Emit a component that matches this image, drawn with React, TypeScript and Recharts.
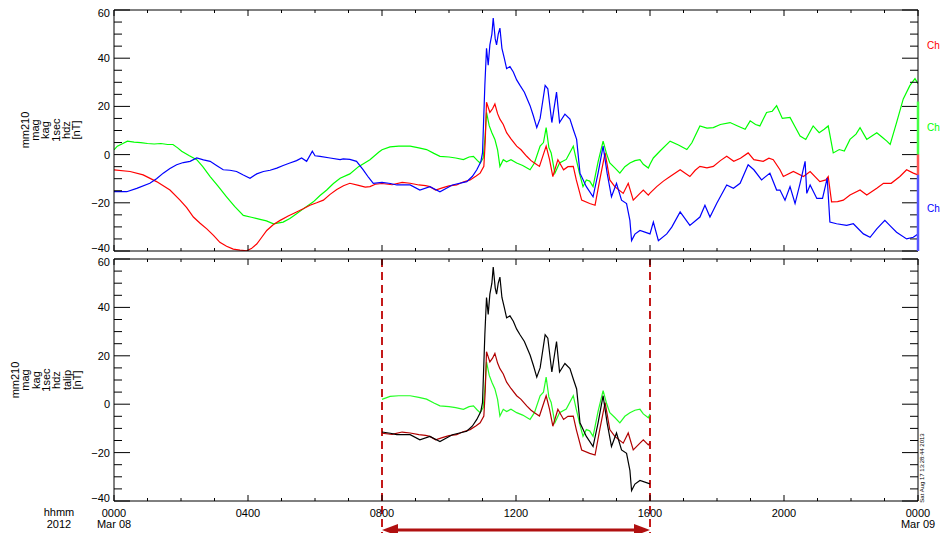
import React from 'react';
import { LineChart, Line, XAxis, YAxis, ReferenceArea } from 'recharts';

const FONT = '"Liberation Sans", Arial, Helvetica, sans-serif';

// [hour of day, nT]
const greenSeries: [number, number][] = [
  [0, 2.0], [0.1, 3.5], [0.25, 4.5], [0.4, 5.6], [0.6, 5.2], [0.8, 5.0], [1.0, 4.6], [1.2, 4.4], [1.4, 4.6], [1.6, 4.2],
  [1.76, 4.2], [1.9, 2.8], [2.02, 1.4], [2.25, -0.5], [2.47, -2.1], [2.65, -5.0], [2.87, -9.1], [3.1, -13.0], [3.36, -17.5],
  [3.6, -21.5], [3.86, -25.2], [4.1, -26.0], [4.36, -26.9], [4.55, -27.5], [4.76, -28.7], [5.05, -28.0], [5.25, -26.5],
  [5.45, -24.5], [5.7, -22.0], [5.95, -19.6], [6.15, -17.0], [6.35, -14.7], [6.55, -12.0], [6.75, -9.8], [7.04, -8.0],
  [7.3, -5.0], [7.64, -2.1], [7.9, 1.0], [8.0, 2.0], [8.24, 3.2], [8.5, 3.5], [8.84, 3.5], [9.1, 2.8], [9.33, 2.1],
  [9.55, 0.5], [9.73, -0.7], [10.0, -1.0], [10.2, -1.4], [10.43, -2.1], [10.6, -1.0], [10.73, -0.7], [10.85, -2.5],
  [10.93, -3.5], [11.02, -1.4], [11.08, 8.0], [11.12, 17.5], [11.2, 12.0], [11.28, 9.1], [11.37, 6.3], [11.45, 2.0],
  [11.52, -4.9], [11.62, -2.1], [11.72, -3.0], [11.85, -2.1], [12.02, -3.5], [12.2, -4.5], [12.42, -6.3], [12.55, -3.5],
  [12.72, 3.5], [12.82, 5.0], [12.9, 11.2], [12.98, 3.0], [13.05, 0.7], [13.16, -7.7], [13.3, -3.5], [13.5, -2.0],
  [13.71, 3.5], [13.8, -2.1], [13.9, -8.0], [14.0, -13.3], [14.1, -10.5], [14.2, -11.0], [14.3, -13.3], [14.45, -3.0],
  [14.6, 5.6], [14.7, 0.5], [14.8, -3.5], [14.95, -5.5], [15.1, -7.7], [15.25, -5.0], [15.4, -3.5], [15.55, -2.5],
  [15.7, -2.1], [15.8, -4.0], [15.95, -5.6], [16.0, -4.0], [16.1, -1.4], [16.3, 1.5], [16.6, 5.6], [16.85, 4.0],
  [17.1, 2.1], [17.25, 4.9], [17.49, 11.9], [17.7, 11.0], [17.89, 11.2], [18.1, 12.5], [18.39, 13.3], [18.6, 12.0],
  [18.84, 10.5], [18.99, 14.0], [19.15, 12.5], [19.28, 11.9], [19.48, 17.5], [19.65, 18.0], [19.78, 20.3], [19.95, 15.0],
  [20.18, 15.4], [20.35, 11.0], [20.48, 7.7], [20.65, 6.3], [20.87, 11.9], [21.05, 9.1], [21.2, 10.5], [21.32, 11.9],
  [21.47, 0.7], [21.65, 2.1], [21.8, 1.5], [21.97, 6.3], [22.15, 8.5], [22.27, 11.2], [22.47, 6.3], [22.6, 7.5],
  [22.77, 9.1], [22.95, 7.0], [23.07, 5.6], [23.17, 4.2], [23.36, 13.3], [23.56, 23.1], [23.76, 28.7], [23.91, 31.5],
  [24.0, 29.4],
];

const redSeries: [number, number][] = [
  [0, -6.3], [0.48, -7.0], [0.87, -8.4], [1.27, -11.2], [1.67, -14.7], [1.97, -18.9], [2.17, -22.0], [2.37, -25.9],
  [2.57, -28.5], [2.77, -30.8], [2.97, -33.5], [3.16, -36.4], [3.36, -38.0], [3.56, -39.2], [3.76, -39.6], [3.96, -39.9],
  [4.1, -39.0], [4.26, -37.1], [4.4, -34.5], [4.56, -31.5], [4.76, -29.0], [4.96, -27.3], [5.2, -25.5], [5.45, -23.8],
  [5.65, -22.5], [5.85, -21.0], [6.05, -20.0], [6.25, -18.9], [6.45, -16.5], [6.65, -14.5], [6.85, -12.9], [7.04, -11.9],
  [7.3, -12.8], [7.5, -13.5], [7.64, -13.3], [7.8, -12.3], [8.0, -12.0], [8.3, -12.5], [8.6, -11.5], [8.84, -11.9],
  [9.1, -12.6], [9.3, -12.9], [9.43, -13.3], [9.6, -14.7], [9.8, -13.8], [10.0, -13.0], [10.23, -12.6], [10.4, -11.5],
  [10.63, -10.5], [10.8, -9.0], [10.93, -7.7], [11.04, -4.9], [11.08, 4.9], [11.12, 21.7], [11.22, 17.5], [11.3, 19.0],
  [11.37, 21.0], [11.45, 17.0], [11.52, 14.7], [11.62, 12.5], [11.72, 9.1], [11.85, 6.5], [12.02, 3.5], [12.15, 2.0],
  [12.32, -0.7], [12.45, -2.5], [12.55, -3.5], [12.7, -4.9], [12.9, 3.5], [13.0, -2.0], [13.1, -9.1], [13.25, -2.1],
  [13.42, -6.3], [13.55, -5.0], [13.71, -4.9], [13.8, -10.5], [13.96, -18.9], [14.2, -20.3], [14.36, -21.0], [14.5, -10.5],
  [14.66, 0.7], [14.8, -10.5], [14.95, -13.3], [15.2, -16.1], [15.35, -11.9], [15.5, -18.9], [15.7, -16.1], [15.8, -14.7],
  [15.95, -16.8], [16.0, -16.0], [16.2, -13.3], [16.4, -11.0], [16.6, -9.1], [16.9, -6.3], [17.19, -9.1], [17.35, -6.5],
  [17.49, -4.9], [17.7, -5.5], [17.89, -4.9], [18.1, -2.5], [18.29, -0.7], [18.5, -2.8], [18.7, -1.5], [18.93, 0.7],
  [19.1, -2.1], [19.38, -2.8], [19.55, -1.5], [19.68, -2.1], [19.88, -6.3], [19.98, -9.1], [20.28, -7.0], [20.58, -9.1],
  [20.78, -7.0], [21.07, -11.2], [21.25, -10.5], [21.32, -9.1], [21.42, -19.6], [21.6, -19.5], [21.77, -18.9],
  [21.97, -16.8], [22.27, -14.7], [22.47, -16.8], [22.77, -14.0], [22.97, -11.9], [23.2, -11.9], [23.46, -9.1],
  [23.66, -6.3], [23.86, -7.7], [24.0, -8.4],
];

const blueSeries: [number, number][] = [
  [0, -15.4], [0.38, -15.4], [0.68, -14.0], [1.07, -11.9], [1.27, -10.0], [1.47, -7.7], [1.67, -5.8], [1.87, -4.2],
  [2.07, -3.3], [2.27, -2.8], [2.47, -1.4], [2.67, -2.2], [2.87, -2.8], [3.06, -4.5], [3.26, -6.3], [3.46, -6.5],
  [3.66, -7.0], [3.86, -8.5], [4.06, -9.8], [4.26, -8.0], [4.46, -7.0], [4.66, -6.5], [4.86, -5.6], [5.05, -4.5],
  [5.25, -3.5], [5.45, -2.5], [5.6, -1.4], [5.75, -2.8], [5.92, 1.4], [6.0, -0.5], [6.15, -0.7], [6.45, -1.4],
  [6.75, -2.1], [6.84, -1.8], [7.04, -2.0], [7.24, -2.8], [7.44, -6.3], [7.6, -9.5], [7.74, -11.9], [8.0, -11.5],
  [8.25, -12.0], [8.44, -12.6], [8.84, -12.6], [9.13, -14.7], [9.43, -13.3], [9.73, -15.4], [10.1, -12.6], [10.53, -11.2],
  [10.7, -9.0], [10.83, -6.3], [10.95, -3.0], [11.0, 0.7], [11.07, 28.7], [11.12, 44.1], [11.17, 37.1], [11.22, 45.5],
  [11.28, 50.0], [11.32, 56.7], [11.38, 48.0], [11.42, 45.5], [11.47, 50.0], [11.52, 52.5], [11.58, 44.1], [11.65, 40.0],
  [11.72, 35.7], [11.82, 36.5], [11.92, 34.3], [12.02, 31.0], [12.12, 28.7], [12.25, 25.9], [12.42, 20.3], [12.52, 16.0],
  [12.62, 11.2], [12.72, 15.0], [12.87, 28.7], [12.95, 27.3], [13.07, 13.3], [13.21, 25.9], [13.3, 13.3], [13.46, 16.8],
  [13.61, 14.7], [13.72, 10.0], [13.81, 6.3], [13.91, -7.7], [14.1, -13.3], [14.3, -17.5], [14.45, -7.7], [14.6, 3.5],
  [14.72, -7.7], [14.85, -17.5], [15.0, -11.9], [15.15, -18.9], [15.3, -20.3], [15.4, -27.3], [15.45, -35.7],
  [15.55, -33.0], [15.7, -31.5], [16.0, -32.9], [16.1, -28.0], [16.25, -35.7], [16.5, -32.9], [16.65, -30.1],
  [16.9, -23.8], [17.19, -29.4], [17.49, -25.9], [17.64, -21.0], [17.79, -25.9], [17.99, -20.3], [18.29, -12.6],
  [18.49, -14.0], [18.69, -11.9], [18.93, -4.2], [19.1, -6.3], [19.33, -10.5], [19.58, -7.7], [19.78, -14.7],
  [19.88, -14.7], [20.03, -18.9], [20.18, -13.3], [20.33, -20.3], [20.48, -11.9], [20.63, -2.8], [20.68, -16.1],
  [20.78, -12.6], [20.98, -18.2], [21.15, -18.2], [21.29, -9.8], [21.37, -28.0], [21.57, -28.7], [21.87, -29.4],
  [22.07, -28.7], [22.37, -32.9], [22.57, -34.3], [22.77, -30.8], [23.01, -27.3], [23.2, -30.0], [23.36, -32.2],
  [23.66, -35.0], [23.86, -34.3], [24.0, -32.9],
];

const xTicks = [0, 1, 2, 3, 4, 5, 6, 7, 8, 9, 10, 11, 12, 13, 14, 15, 16, 17, 18, 19, 20, 21, 22, 23, 24];
const xMajorTicks = [0, 4, 8, 12, 16, 20, 24];
const xTickLabels = ['0000', '0400', '0800', '1200', '1600', '2000', '0000'];
const xDateTicks = [0, 24];
const xDateLabels = ['Mar 08', 'Mar 09'];
const yTicks = [-40, -35, -30, -25, -20, -15, -10, -5, 0, 5, 10, 15, 20, 25, 30, 35, 40, 45, 50, 55, 60];
const yMajorTicks = [-40, -20, 0, 20, 40, 60];
const yTickLabels = ['\u221240', '\u221220', '0', '20', '40', '60'];
const channelLabels = ['Ch', 'Ch', 'Ch'];
const topTitle = ['mm210', 'mag', 'kag', '1sec', 'hdz', '[nT]'];
const bottomTitle = ['mm210', 'mag', 'kag', '1sec', 'hdz', 'talip', '[nT]'];
const windowStart = 8;
const windowEnd = 16;
// coloured channel markers along the right border of the upper panel
const channelBars: { from: number; to: number; color: string }[] = [
  { from: 22, to: 0, color: '#44ff44' },
  { from: 0, to: -8.4, color: '#ff5555' },
  { from: -8.4, to: -40, color: '#5555ff' },
];

const toPts = (s: [number, number][]) => s.map(([t, v]) => ({ t, v }));
const inWindow = (s: [number, number][]) => toPts(s.filter(([t]) => t >= windowStart && t <= windowEnd));

const greenData = toPts(greenSeries);
const redData = toPts(redSeries);
const blueData = toPts(blueSeries);
const greenWin = inWindow(greenSeries);
const redWin = inWindow(redSeries);
const blackWin = inWindow(blueSeries);
const barData = channelBars.map((b) => [{ t: 24, v: b.from }, { t: 24, v: b.to }]);

const LeftTick = (p: any) => {
  const { x, y, payload } = p;
  const v = payload.value;
  const mi = yMajorTicks.indexOf(v);
  const major = mi >= 0;
  const shift = mi === 0 ? -3 : mi === yMajorTicks.length - 1 ? 3 : 0;
  return (
    <g>
      <line x1={x} x2={x + (major ? 16 : 8)} y1={y} y2={y} stroke="#000" strokeWidth={1} />
      {major && (
        <text x={x - 4} y={y + 4 + shift} textAnchor="end" fontSize={11} fontFamily={FONT} fill="#000">
          {yTickLabels[mi]}
        </text>
      )}
    </g>
  );
};

const RightTick = (p: any) => {
  const { x, y, payload } = p;
  const major = yMajorTicks.indexOf(payload.value) >= 0;
  return <line x1={x} x2={x - (major ? 16 : 8)} y1={y} y2={y} stroke="#000" strokeWidth={1} />;
};

const TopTick = (p: any) => {
  const { x, y, payload } = p;
  const major = xMajorTicks.indexOf(payload.value) >= 0;
  return <line x1={x} x2={x} y1={y} y2={y + (major ? 6 : 3)} stroke="#000" strokeWidth={1} />;
};

const BottomTickPlain = (p: any) => {
  const { x, y, payload } = p;
  const major = xMajorTicks.indexOf(payload.value) >= 0;
  return <line x1={x} x2={x} y1={y} y2={y - (major ? 6 : 3)} stroke="#000" strokeWidth={1} />;
};

const BottomTickLabeled = (p: any) => {
  const { x, y, payload } = p;
  const v = payload.value;
  const mi = xMajorTicks.indexOf(v);
  const di = xDateTicks.indexOf(v);
  return (
    <g>
      <line x1={x} x2={x} y1={y} y2={y - (mi >= 0 ? 6 : 3)} stroke="#000" strokeWidth={1} />
      {mi >= 0 && (
        <text x={x} y={y + 16} textAnchor="middle" fontSize={11} fontFamily={FONT} fill="#000">
          {xTickLabels[mi]}
        </text>
      )}
      {di >= 0 && (
        <text x={x} y={y + 27} textAnchor="middle" fontSize={11} fontFamily={FONT} fill="#000">
          {xDateLabels[di]}
        </text>
      )}
    </g>
  );
};

const WindowShape = (p: any) => {
  const { x, y, width, height } = p;
  const c = '#c41a1a';
  const yEnd = y + height + 33;
  const ay = y + height + 29;
  const x2 = x + width;
  return (
    <g>
      <line x1={x} x2={x} y1={y} y2={yEnd} stroke={c} strokeWidth={2} strokeDasharray="8 5" />
      <line x1={x2} x2={x2} y1={y} y2={yEnd} stroke={c} strokeWidth={2} strokeDasharray="8 5" />
      <line x1={x + 10} x2={x2 - 10} y1={ay} y2={ay} stroke="#b01010" strokeWidth={3} />
      <polygon points={`${x},${ay} ${x + 16},${ay - 6} ${x + 16},${ay + 6}`} fill="#b01010" />
      <polygon points={`${x2},${ay} ${x2 - 16},${ay - 6} ${x2 - 16},${ay + 6}`} fill="#b01010" />
    </g>
  );
};

const axisCommon = {
  tickSize: 0,
  tickMargin: 0,
  tickLine: false,
  interval: 0 as const,
  axisLine: { stroke: '#000', strokeWidth: 1 },
};

export default function App() {
  return (
    <div style={{ position: 'absolute', left: 0, top: 0, width: 940, height: 533, background: '#fff', overflow: 'hidden' }}>
      <div style={{ position: 'absolute', left: 0, top: 0 }}>
        <LineChart width={940} height={256} margin={{ top: 9, right: 21, bottom: 4, left: 113 }}>
          <XAxis dataKey="t" type="number" domain={[0, 24]} ticks={xTicks} allowDataOverflow height={1} tick={BottomTickPlain} {...axisCommon} />
          <XAxis xAxisId="top" orientation="top" dataKey="t" type="number" domain={[0, 24]} ticks={xTicks} allowDataOverflow height={1} tick={TopTick} {...axisCommon} />
          <YAxis type="number" domain={[-40, 60]} ticks={yTicks} allowDataOverflow width={1} tick={LeftTick} {...axisCommon} />
          <YAxis yAxisId="right" orientation="right" type="number" domain={[-40, 60]} ticks={yTicks} allowDataOverflow width={1} tick={RightTick} {...axisCommon} />
          <Line data={greenData} dataKey="v" stroke="#00ff00" strokeWidth={1.2} dot={false} isAnimationActive={false} />
          <Line data={redData} dataKey="v" stroke="#ff0000" strokeWidth={1.2} dot={false} isAnimationActive={false} />
          <Line data={blueData} dataKey="v" stroke="#0000ff" strokeWidth={1.2} dot={false} isAnimationActive={false} />
        </LineChart>
      </div>
      <div style={{ position: 'absolute', left: 0, top: 0 }}>
        <LineChart width={940} height={256} margin={{ top: 10, right: 22, bottom: 5, left: 114 }}>
          <XAxis dataKey="t" type="number" domain={[0, 24]} hide />
          <YAxis type="number" domain={[-40, 60]} hide />
          {channelBars.map((b, i) => (
            <Line
              key={i}
              data={barData[i]}
              dataKey="v"
              stroke={b.color}
              strokeWidth={2.5}
              dot={false}
              isAnimationActive={false}
            />
          ))}
        </LineChart>
      </div>
      <div style={{ position: 'absolute', left: 0, top: 0 }}>
        <LineChart width={940} height={533} margin={{ top: 258, right: 21, bottom: 31, left: 113 }}>
          <XAxis dataKey="t" type="number" domain={[0, 24]} ticks={xTicks} allowDataOverflow height={1} tick={BottomTickLabeled} {...axisCommon} />
          <XAxis xAxisId="top" orientation="top" dataKey="t" type="number" domain={[0, 24]} ticks={xTicks} allowDataOverflow height={1} tick={TopTick} {...axisCommon} />
          <YAxis type="number" domain={[-40, 60]} ticks={yTicks} allowDataOverflow width={1} tick={LeftTick} {...axisCommon} />
          <YAxis yAxisId="right" orientation="right" type="number" domain={[-40, 60]} ticks={yTicks} allowDataOverflow width={1} tick={RightTick} {...axisCommon} />
          <Line data={greenWin} dataKey="v" stroke="#22ff22" strokeWidth={1.2} dot={false} isAnimationActive={false} />
          <Line data={redWin} dataKey="v" stroke="#b00000" strokeWidth={1.2} dot={false} isAnimationActive={false} />
          <Line data={blackWin} dataKey="v" stroke="#000000" strokeWidth={1.2} dot={false} isAnimationActive={false} />
          <ReferenceArea x1={windowStart} x2={windowEnd} ifOverflow="visible" shape={WindowShape} />
        </LineChart>
      </div>
      <svg width={940} height={533} style={{ position: 'absolute', left: 0, top: 0, pointerEvents: 'none' }}>
        {topTitle.map((s, i) => (
          <text key={'t' + i} transform={`translate(${29 + 10.2 * i},130) rotate(-90)`} textAnchor="middle" fontSize={11} fontFamily={FONT} fill="#000">
            {s}
          </text>
        ))}
        {bottomTitle.map((s, i) => (
          <text key={'b' + i} transform={`translate(${19 + 10.33 * i},380) rotate(-90)`} textAnchor="middle" fontSize={11} fontFamily={FONT} fill="#000">
            {s}
          </text>
        ))}
        <text x={927} y={49} fontSize={10} fontFamily={FONT} fill="#ff0000">{channelLabels[0]}</text>
        <text x={927} y={131} fontSize={10} fontFamily={FONT} fill="#00ff00">{channelLabels[1]}</text>
        <text x={927} y={212} fontSize={10} fontFamily={FONT} fill="#0000ff">{channelLabels[2]}</text>
        <text x={59} y={516} textAnchor="middle" fontSize={11} fontFamily={FONT} fill="#000">hhmm</text>
        <text x={59} y={528} textAnchor="middle" fontSize={11} fontFamily={FONT} fill="#000">2012</text>
        <text transform="translate(924,468) rotate(-90)" textAnchor="middle" fontSize={6} fontFamily={FONT} fill="#000">
          Sat Aug 17 13:28:44 2013
        </text>
      </svg>
    </div>
  );
}
